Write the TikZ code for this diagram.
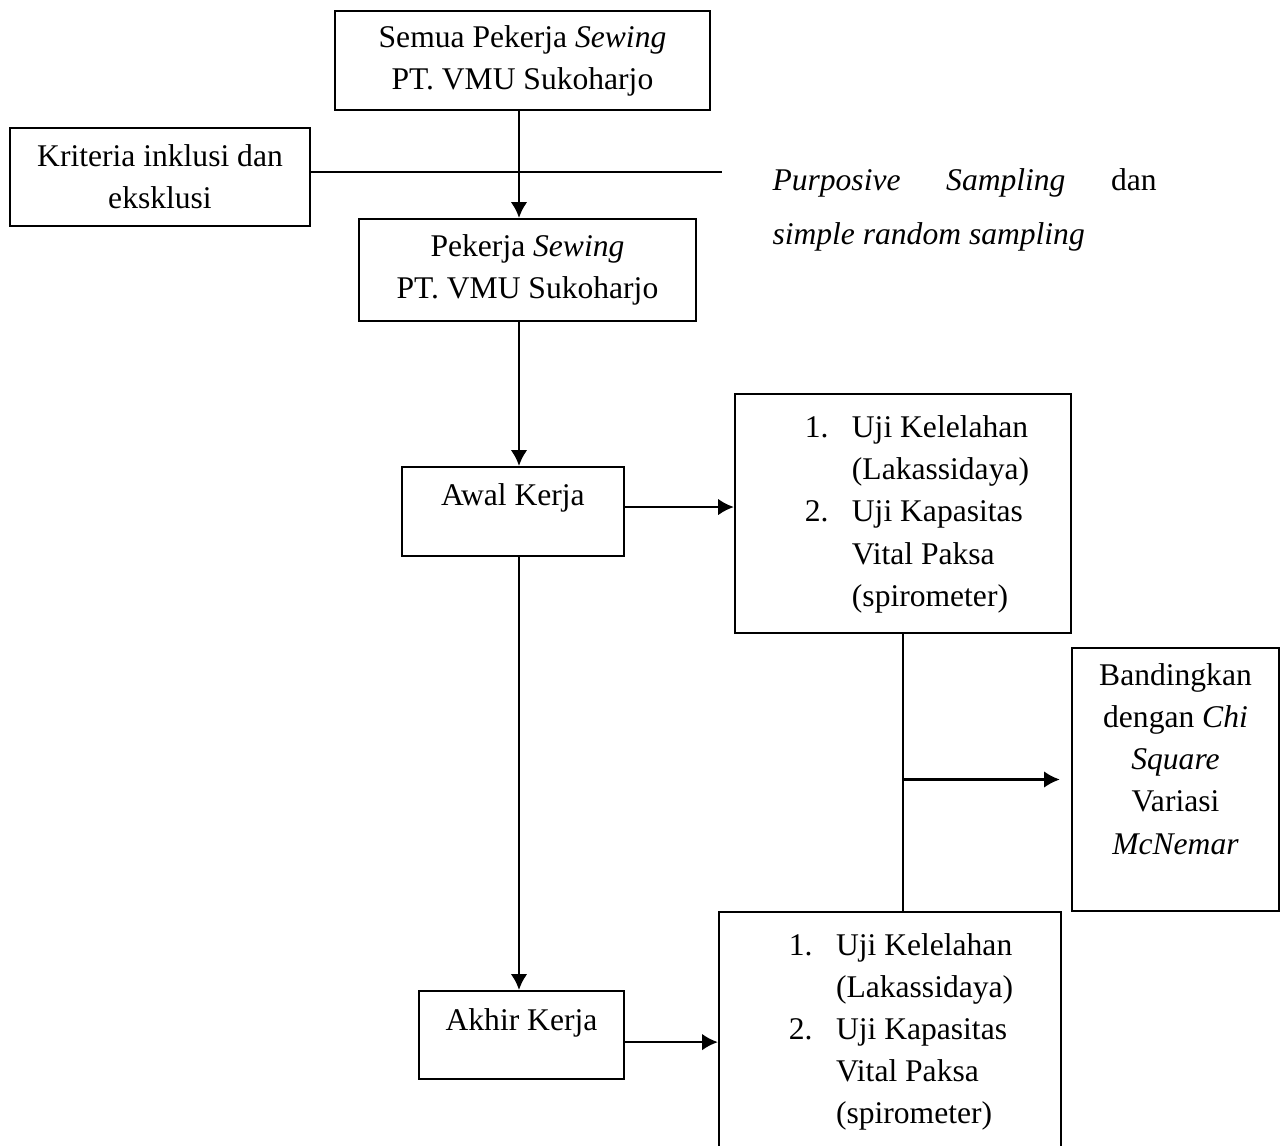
\documentclass[tikz,border=0pt]{standalone}
\usepackage{fontspec}
\setmainfont{Liberation Serif}
\usetikzlibrary{arrows.meta}

\newcommand{\pxu}{0.38pt}
\newcommand{\ujilist}[1]{\begin{tabular}{@{\hspace{#1}}p{17.9pt}@{}l@{}}
1. & Uji Kelelahan\\ & (Lakassidaya)\\ 2. & Uji Kapasitas\\ & Vital Paksa\\ & (spirometer)
\end{tabular}}

\begin{document}
\begin{tikzpicture}[x=\pxu, y=-\pxu,
  every node/.style={font=\fontsize{12}{16}\selectfont},
  box/.style={draw, line width=0.8pt, align=center, inner sep=0pt},
  arr/.style={-{Latex[length=6pt,width=6.3pt]}, line width=1pt}]
\clip (0,0) rectangle (1288,1146);

% boxes
\node[box, minimum width=375*\pxu, minimum height=99*\pxu] (semua) at (522.5,60.5) {Semua Pekerja \textit{Sewing}\\PT. VMU Sukoharjo};
\node[box, minimum width=300*\pxu, minimum height=98*\pxu] (kriteria) at (160,177) {Kriteria inklusi dan\\eksklusi};
\node[box, minimum width=337*\pxu, minimum height=102*\pxu] (pekerja) at (527.5,270) {Pekerja \textit{Sewing}\\PT. VMU Sukoharjo};
\node[anchor=north west, inner sep=0pt, text width=146pt, align=justify, font=\fontsize{12}{20.5}\selectfont] (sampling) at (772,168)
  {\textit{Purposive}\hfill\textit{Sampling}\hfill dan\\\textit{simple random sampling}};
\node[box, minimum width=222*\pxu, minimum height=89*\pxu, text height=8.3pt, text depth=12.8pt] (awal) at (513,511.5) {Awal Kerja};
\node[box, minimum width=205*\pxu, minimum height=88*\pxu, text height=8.3pt, text depth=11.8pt] (akhir) at (521.5,1035) {Akhir Kerja};
\node[box, minimum width=336*\pxu, minimum height=239*\pxu] (ujiawal) at (903,513.5) {\ujilist{10.6pt}};
\node[box, minimum width=342*\pxu, minimum height=238*\pxu] (ujiakhir) at (890,1031) {\ujilist{8.4pt}};
\node[box, minimum width=207*\pxu, minimum height=263*\pxu] (banding) at (1175.5,779.5) {};
\node[align=center] (bandingtext) at (1175.5,759) {Bandingkan\\dengan \textit{Chi}\\\textit{Square}\\Variasi\\\textit{McNemar}};

% connectors
\coordinate (spine) at (519,0);
\coordinate (kriteriaend) at (722,172);
\draw[arr] (semua.south -| spine) -- (pekerja.north -| spine);
\draw[line width=0.8pt] (kriteria.east |- kriteriaend) -- (kriteriaend);
\draw[arr] (pekerja.south -| spine) -- (awal.north -| spine);
\draw[arr] (awal.south -| spine) -- (akhir.north -| spine);
\draw[arr] ([yshift=1.7pt]awal.east) -- ([yshift=1.7pt]awal.east -| ujiawal.west);
\draw[arr] ([yshift=-2.7pt]akhir.east) -- ([yshift=-2.7pt]akhir.east -| ujiakhir.west);
\draw[line width=0.8pt] (ujiawal.south) -- (ujiawal.south |- ujiakhir.north);
\draw[arr] (ujiawal.south |- banding.west) -- ([xshift=-4.2pt]banding.west);

\end{tikzpicture}
\end{document}
